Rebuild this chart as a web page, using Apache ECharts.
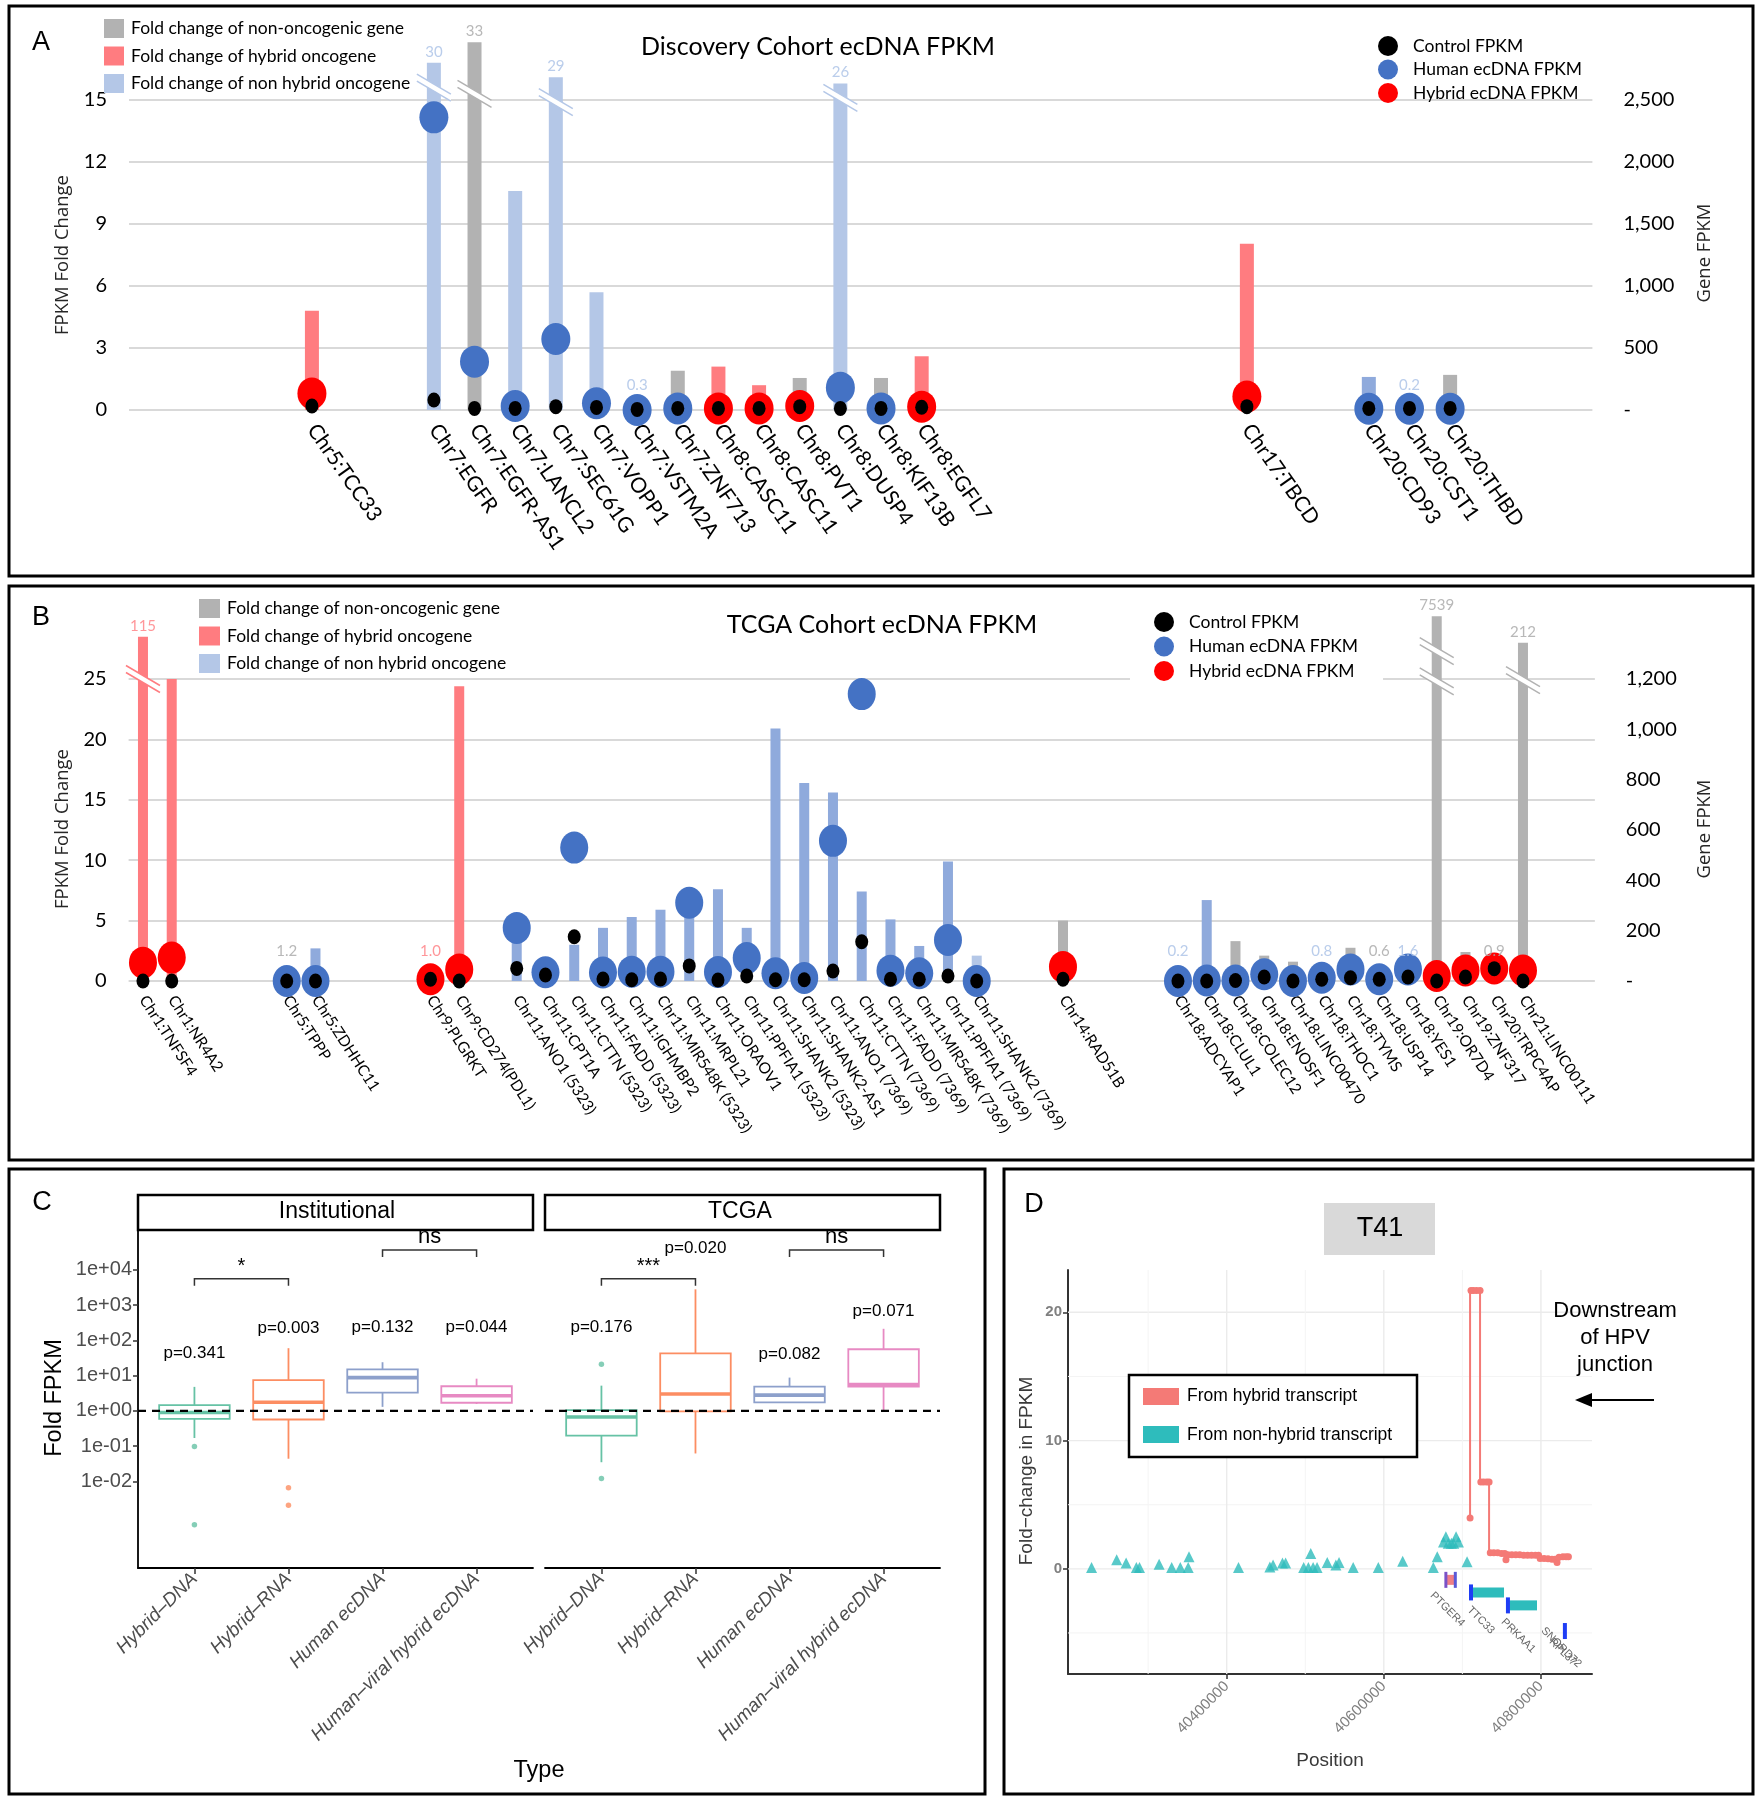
<!DOCTYPE html>
<html>
<head>
<meta charset="utf-8">
<title>ecDNA FPKM figure</title>
<script src="https://cdn.jsdelivr.net/npm/echarts@6/dist/echarts.min.js"></script>
<style>
html,body{margin:0;padding:0;background:#fff;}
#chart{width:1758px;height:1800px;}
</style>
</head>
<body>
<div id="chart"></div>
<script>
const N = null;

// ================= Panel A : Discovery cohort =================
const catsA = ['', '', '', '', 'Chr5:TCC33',
  '', '', 'Chr7:EGFR', 'Chr7:EGFR-AS1', 'Chr7:LANCL2',
  'Chr7:SEC61G', 'Chr7:VOPP1', 'Chr7:VSTM2A', 'Chr7:ZNF713', 'Chr8:CASC11',
  'Chr8:CASC11', 'Chr8:PVT1', 'Chr8:DUSP4', 'Chr8:KIF13B', 'Chr8:EGFL7',
  '', '', '', '', '',
  '', '', 'Chr17:TBCD', '', '',
  'Chr20:CD93', 'Chr20:CST1', 'Chr20:THBD', '', '',
  ''];
// bar type: g = non-oncogenic gene, r = hybrid oncogene, b/B = non hybrid oncogene
const typeA = [N, N, N, N, 'r',
  N, N, 'b', 'g', 'b',
  'b', 'b', 'b', 'g', 'r',
  'r', 'g', 'b', 'g', 'r',
  N, N, N, N, N,
  N, N, 'r', N, N,
  'B', 'b', 'g', N, N,
  N];
const foldA = [N, N, N, N, 4.8,
  N, N, 30, 33, 10.6,
  29, 5.7, 0.3, 1.9, 2.1,
  1.2, 1.55, 26, 1.55, 2.6,
  N, N, N, N, N,
  N, N, 8.05, N, N,
  1.6, 0.2, 1.7, N, N,
  N];
// broken bars: [category index, drawn height on the broken axis]
const brokenA = [[7, 16.8], [8, 17.8], [10, 16.1], [17, 15.8]];
const breakMarksA = [[7, 15.6], [8, 15.3], [10, 14.9], [17, 15.1]];
const labelledA = [7, 8, 10, 12, 17, 31];
const controlA = [N, N, N, N, 32,
  N, N, 81, 13, 13,
  27, 21, 5, 13, 13,
  13, 27, 13, 13, 22,
  N, N, N, N, N,
  N, N, 27, N, N,
  13, 13, 13, N, N,
  N];
const humanA = [N, N, N, N, N,
  N, N, 2360, 390, 32,
  573, 54, 0, 13, N,
  N, N, 180, 13, N,
  N, N, N, N, N,
  N, N, N, N, N,
  10, 10, 10, N, N,
  N];
const hybridA = [N, N, N, N, 134,
  N, N, N, N, N,
  N, N, N, N, 13,
  13, 32, N, N, 27,
  N, N, N, N, N,
  N, N, 108, N, N,
  N, N, N, N, N,
  N];

// ================= Panel B : TCGA cohort =================
const catsB = ['Chr1:TNFSF4', 'Chr1:NR4A2', '', '', '',
  'Chr5:TPPP', 'Chr5:ZDHHC11', '', '', '',
  'Chr9:PLGRKT', 'Chr9:CD274(PDL1)', '', 'Chr11:ANO1 (5323)', 'Chr11:CPT1A',
  'Chr11:CTTN (5323)', 'Chr11:FADD (5323)', 'Chr11:IGHMBP2', 'Chr11:MIR548K (5323)', 'Chr11:MRPL21',
  'Chr11:ORAOV1', 'Chr11:PPFIA1 (5323)', 'Chr11:SHANK2 (5323)', 'Chr11:SHANK2-AS1', 'Chr11:ANO1 (7369)',
  'Chr11:CTTN (7369)', 'Chr11:FADD (7369)', 'Chr11:MIR548K (7369)', 'Chr11:PPFIA1 (7369)', 'Chr11:SHANK2 (7369)',
  '', '', 'Chr14:RAD51B', '', '',
  '', 'Chr18:ADCYAP1', 'Chr18:CLUL1', 'Chr18:COLEC12', 'Chr18:ENOSF1',
  'Chr18:LINC00470', 'Chr18:THOC1', 'Chr18:TYMS', 'Chr18:USP14', 'Chr18:YES1',
  'Chr19:OR7D4', 'Chr19:ZNF317', 'Chr20:TRPC4AP', 'Chr21:LINC00111', '',
  ''];
const typeB = ['r', 'r', N, N, N,
  'g', 'B', N, N, N,
  'r', 'r', N, 'B', 'B',
  'B', 'B', 'B', 'B', 'B',
  'B', 'B', 'B', 'B', 'B',
  'B', 'B', 'B', 'B', 'b',
  N, N, 'g', N, N,
  N, 'b', 'B', 'g', 'g',
  'g', 'b', 'g', 'g', 'b',
  'g', 'g', 'g', 'g', N,
  N];
const foldB = [115, 25, N, N, N,
  1.2, 2.7, N, N, N,
  1.0, 24.4, N, 4.0, 0.6,
  3.0, 4.4, 5.3, 5.9, 6.5,
  7.6, 4.4, 20.9, 16.4, 15.6,
  7.4, 5.1, 2.9, 9.9, 2.1,
  N, N, 5.0, N, N,
  N, 0.2, 6.7, 3.3, 2.1,
  1.6, 0.8, 2.75, 0.6, 1.6,
  7539, 2.4, 0.9, 212, N,
  N];
const brokenB = [[0, 28.5], [45, 30.2], [48, 28.0]];
const breakMarksB = [[0, 25.0], [45, 27.3], [45, 24.8], [48, 24.9]];
const labelledB = [0, 5, 10, 36, 41, 43, 44, 45, 47, 48];
const controlB = [0, 0, N, N, N,
  0, 0, N, N, N,
  7, 0, N, 50, 24,
  176, 8, 5, 8, 60,
  4, 20, 5, 5, 40,
  156, 7, 7, 20, 0,
  N, N, 7, N, N,
  N, 0, 0, 2, 16,
  0, 7, 13, 7, 16,
  0, 16, 49, 0, N,
  N];
const humanB = [N, N, N, N, N,
  0, 0, N, N, N,
  N, N, N, 211, 35,
  530, 34, 37, 37, 311,
  36, 91, 31, 12, 557,
  1140, 41, 31, 163, 0,
  N, N, N, N, N,
  N, 0, 2, 2, 27,
  0, 13, 46, 7, 46,
  N, N, N, N, N,
  N];
const hybridB = [73, 93, N, N, N,
  N, N, N, N, N,
  7, 46, N, N, N,
  N, N, N, N, N,
  N, N, N, N, N,
  N, N, N, N, N,
  N, N, 56, N, N,
  N, N, N, N, N,
  N, N, N, N, N,
  20, 42, 50, 42, N,
  N];

// ================= Panel C : boxplots =================
const typesC = ['Hybrid\u2013DNA', 'Hybrid\u2013RNA', 'Human ecDNA', 'Human\u2013viral hybrid ecDNA'];
// [min, Q1, median, Q3, max]
const boxInst = [[0.17, 0.59, 0.9, 1.45, 4.8], [0.044, 0.57, 1.75, 7.5, 60], [1.3, 3.3, 8.8, 15, 24], [1.57, 1.7, 2.7, 5.0, 8.2]];
const boxTcga = [[0.035, 0.2, 0.67, 1.05, 5.2], [0.062, 0.97, 3.0, 43, 2800], [1.75, 1.75, 2.8, 4.9, 8.8], [1.0, 4.9, 5.6, 56, 213]];
const outInst = [[1, 0.097], [1, 0.00059], [2, 0.0066], [2, 0.0021]];
const outTcga = [[1, 21], [1, 0.012]];
const pInst = ['p=0.341', 'p=0.003', 'p=0.132', 'p=0.044'];
const pInstAt = [44, 224, 240, 240];
const pTcga = ['p=0.176', 'p=0.020', 'p=0.082', 'p=0.071'];
const pTcgaAt = [240, 40000, 41, 680];
const sigInst = [[1, 2, 5560, '*'], [3, 4, 36300, 'ns']];
const sigTcga = [[1, 2, 5560, '***'], [3, 4, 36300, 'ns']];
const logTicksC = [0.01, 0.1, 1, 10, 100, 1000, 10000];
const refFoldC = 1;

// ================= Panel D : T41 =================
const nonHybridPos = [40228000, 40260000, 40272000, 40285000, 40289000, 40314000, 40330000, 40341000, 40351000, 40352000,
  40415000, 40455000, 40459000, 40471000, 40475000, 40498000, 40504000, 40507000, 40510000, 40515000,
  40528000, 40539000, 40543000, 40561000, 40593000, 40624000, 40663000, 40668000, 40706000,
  40676000, 40679000, 40682000, 40686000, 40689000, 40692000, 40695000];
const nonHybridFold = [0.1, 0.7, 0.45, 0.1, 0.1, 0.35, 0.1, 0.1, 0.1, 0.95,
  0.1, 0.15, 0.3, 0.45, 0.45, 0.1, 0.1, 1.2, 0.1, 0.1,
  0.5, 0.3, 0.5, 0.1, 0.1, 0.6, 0.1, 0.95, 0.55,
  2.1, 2.5, 2.0, 2.0, 2.0, 2.5, 2.1];
const hybridPos = [40709800, 40711000, 40714000, 40718000, 40722500, 40723500, 40727000, 40731000, 40734000, 40735500,
  40740000, 40745000, 40750000, 40754000, 40755500, 40758000, 40763000, 40768000, 40773000, 40778000,
  40783000, 40788000, 40793000, 40797000, 40799000, 40804000, 40809000, 40814000, 40818000, 40820500,
  40823000, 40828000, 40832000, 40835000];
const hybridFold = [3.97, 21.7, 21.7, 21.7, 21.7, 6.77, 6.77, 6.77, 6.77, 1.25,
  1.25, 1.25, 1.2, 1.2, 0.7, 1.1, 1.1, 1.1, 1.1, 1.05,
  1.05, 1.05, 1.05, 1.05, 0.8, 0.8, 0.78, 0.75, 0.75, 0.5,
  0.9, 0.95, 0.95, 0.95];
const genesD = ['PTGER4', 'TTC33', 'PRKAA1', 'SNORD72', 'RPL37'];
const geneStartD = [40679000, 40711000, 40758000, 40830500, 40830500];
const geneEndD = [40691000, 40753000, 40795000, 40831000, 40831000];
const geneLevelD = [-0.86, -1.84, -2.85, -4.85, -4.85];
const posTicksD = [40400000, 40600000, 40800000];
const foldTicksD = [0, 10, 20];
const gridYD = [-5, 0, 5, 10, 15, 20];
const gridXD = [40300000, 40400000, 40500000, 40600000, 40700000, 40800000];

// ================= styles =================
const FONT_XL = 'Lato, "Liberation Sans", sans-serif';
const FONT_GG = '"Liberation Sans", Arial, sans-serif';
const FONT_SEG = '"Open Sans", "Liberation Sans", sans-serif';
const BAR_COLORS = {g: '#b2b2b2', r: '#ff7c80', b: '#b4c7e7', B: '#8faadc'};
const LABEL_COLORS = {g: '#a6a6a6', r: '#ff7c80', b: '#a9c1e6', B: '#9db5e0'};
const BAR_NAMES = {g: 'Fold change of non-oncogenic gene', r: 'Fold change of hybrid oncogene', b: 'Fold change of non hybrid oncogene'};
const DOT_NAMES = ['Control FPKM', 'Human ecDNA FPKM', 'Hybrid ecDNA FPKM'];
const PAL_C = ['#66c2a5', '#fc8d62', '#8da0cb', '#e78ac3'];
const TEAL = '#2ebcbc';
const SALMON = '#f47a76';

function drawnHeight(vals, broken, i) {
  const b = broken.find(x => x[0] === i);
  return b ? b[1] : vals[i];
}
function fmtFold(v) { return v < 10 ? v.toFixed(1) : String(v); }
function fmtThousands(v) { return v === 0 ? '-' : v.toLocaleString('en-US'); }
function fmtSci(v) {
  const e = Math.round(Math.log10(v));
  return '1e' + (e < 0 ? '-' : '+') + String(Math.abs(e)).padStart(2, '0');
}

function barSeriesFor(kind, types, vals, broken, xi, yi, width) {
  return {
    name: BAR_NAMES[kind], type: 'bar', xAxisIndex: xi, yAxisIndex: yi, barWidth: width, barGap: '-100%',
    clip: false, z: 2, silent: true, animation: false,
    itemStyle: {color: BAR_COLORS[kind]},
    data: types.map((t, i) => {
      const match = kind === 'b' ? (t === 'b' || t === 'B') : t === kind;
      if (!match) return '-';
      const v = drawnHeight(vals, broken, i);
      return t === 'B' ? {value: v, itemStyle: {color: BAR_COLORS.B}} : v;
    })
  };
}
function dotSeries(name, vals, color, size, xi, yi, z) {
  return {
    name, type: 'scatter', xAxisIndex: xi, yAxisIndex: yi, z, silent: true, clip: false, animation: false,
    symbol: 'circle', symbolSize: size, itemStyle: {color, opacity: 1},
    data: vals.map((v, i) => v == null ? null : [i, v]).filter(d => d)
  };
}
function valueLabelSeries(labelled, types, vals, broken, floor, xi, yi) {
  return {
    type: 'scatter', xAxisIndex: xi, yAxisIndex: yi, z: 6, silent: true, clip: false, animation: false,
    symbolSize: 1, itemStyle: {color: 'rgba(0,0,0,0)'},
    data: labelled.map(i => ({
      value: [i, Math.max(drawnHeight(vals, broken, i), floor)],
      label: {show: true, position: 'top', distance: 3, formatter: fmtFold(vals[i]),
        color: LABEL_COLORS[types[i]], fontFamily: FONT_XL, fontSize: 15}
    }))
  };
}
function breakMarkSeries(marks, types, xi, yi) {
  return {
    type: 'custom', xAxisIndex: xi, yAxisIndex: yi, z: 3, silent: true, animation: false,
    data: marks.map(m => [m[0], m[1]]),
    renderItem(params, api) {
      const p = api.coord([api.value(0), api.value(1)]);
      const c = BAR_COLORS[types[marks[params.dataIndex][0]]];
      const hw = 17, s = 10, g = 3.5;
      return {type: 'group', children: [
        {type: 'polygon', shape: {points: [[p[0] - hw, p[1] - s - g], [p[0] + hw, p[1] + s - g], [p[0] + hw, p[1] + s + g], [p[0] - hw, p[1] - s + g]]}, style: {fill: '#fff'}},
        {type: 'line', shape: {x1: p[0] - hw, y1: p[1] - s - g, x2: p[0] + hw, y2: p[1] + s - g}, style: {stroke: c, lineWidth: 1.5}},
        {type: 'line', shape: {x1: p[0] - hw, y1: p[1] - s + g, x2: p[0] + hw, y2: p[1] + s + g}, style: {stroke: c, lineWidth: 1.5}}
      ]};
    }
  };
}
function boxSeries(boxes, xi, yi) {
  return {
    type: 'custom', xAxisIndex: xi, yAxisIndex: yi, z: 3, silent: true, animation: false,
    encode: {x: 0, y: [1, 2, 3, 4, 5]},
    data: boxes.map((b, i) => [i + 1].concat(b)),
    renderItem(params, api) {
      const x = api.value(0), c = PAL_C[x - 1], hw = 0.375;
      const v = [1, 2, 3, 4, 5].map(k => api.value(k));
      const y = v.map(val => api.coord([x, val])[1]);
      const xc = api.coord([x, v[2]])[0], xl = api.coord([x - hw, v[2]])[0], xr = api.coord([x + hw, v[2]])[0];
      return {type: 'group', children: [
        {type: 'line', shape: {x1: xc, y1: y[4], x2: xc, y2: y[3]}, style: {stroke: c, lineWidth: 1.8}},
        {type: 'line', shape: {x1: xc, y1: y[1], x2: xc, y2: y[0]}, style: {stroke: c, lineWidth: 1.8}},
        {type: 'rect', shape: {x: xl, y: y[3], width: xr - xl, height: y[1] - y[3]}, style: {fill: '#fff', stroke: c, lineWidth: 1.8}},
        {type: 'line', shape: {x1: xl, y1: y[2], x2: xr, y2: y[2]}, style: {stroke: c, lineWidth: 3.6}}
      ]};
    }
  };
}
function outlierSeries(outs, xi, yi) {
  return {type: 'scatter', xAxisIndex: xi, yAxisIndex: yi, z: 4, silent: true, animation: false, symbolSize: 5.5,
    data: outs.map(o => ({value: o, itemStyle: {color: PAL_C[o[0] - 1]}}))};
}
function refLineSeries(xi, yi) {
  return {type: 'custom', xAxisIndex: xi, yAxisIndex: yi, z: 8, silent: true, animation: false,
    encode: {x: 0, y: 1}, data: [[1, refFoldC]],
    renderItem(params, api) {
      const y = api.coord([1, api.value(1)])[1];
      const cs = params.coordSys;
      return {type: 'line', shape: {x1: cs.x, y1: y, x2: cs.x + cs.width, y2: y}, style: {stroke: '#000', lineWidth: 2.2, lineDash: [8, 6]}};
    }};
}
function bracketSeries(sigs, xi, yi) {
  return {type: 'custom', xAxisIndex: xi, yAxisIndex: yi, z: 6, silent: true, animation: false,
    encode: {x: [0, 1], y: 2}, data: sigs.map(s => [s[0], s[1], s[2]]),
    renderItem(params, api) {
      const a = api.coord([api.value(0), api.value(2)]), b = api.coord([api.value(1), api.value(2)]);
      const label = sigs[params.dataIndex][3];
      return {type: 'group', children: [
        {type: 'polyline', shape: {points: [[a[0], a[1] + 7], [a[0], a[1]], [b[0], b[1]], [b[0], b[1] + 7]]}, style: {stroke: '#333', lineWidth: 1.5, fill: null}},
        {type: 'text', x: (a[0] + b[0]) / 2, y: a[1] - 2, style: {text: label, align: 'center', verticalAlign: 'bottom', fontFamily: FONT_GG, fontSize: label === 'ns' ? 22 : 20, fill: '#000'}}
      ]};
    }};
}
function pSeries(labels, at, xi, yi) {
  return {type: 'custom', xAxisIndex: xi, yAxisIndex: yi, z: 6, silent: true, animation: false,
    encode: {x: 0, y: 1}, data: at.map((v, i) => [i + 1, v]),
    renderItem(params, api) {
      const p = api.coord([api.value(0), api.value(1)]);
      return {type: 'text', x: p[0], y: p[1], style: {text: labels[params.dataIndex], align: 'center', verticalAlign: 'middle', fontFamily: FONT_GG, fontSize: 17, fill: '#000'}};
    }};
}

// ================= axes =================
const catAxis = (gi, data, rot, size) => ({
  type: 'category', gridIndex: gi, data, boundaryGap: true,
  axisLine: {show: false}, axisTick: {show: false}, splitLine: {show: false},
  axisLabel: {interval: 0, rotate: rot, margin: 16, fontFamily: FONT_XL, fontSize: size, color: '#000'}
});
const xlValueAxis = (gi, side, max, interval, fmt, margin, showSplit) => ({
  type: 'value', gridIndex: gi, position: side, min: 0, max, interval,
  axisLine: {show: false}, axisTick: {show: false},
  axisLabel: {margin, fontFamily: FONT_XL, fontSize: 20, color: '#000', formatter: fmt},
  splitLine: {show: showSplit, lineStyle: {color: '#d9d9d9', width: 2}}
});
const boxXAxis = gi => ({
  type: 'value', gridIndex: gi, min: 0.4, max: 4.6,
  splitLine: {show: false},
  axisLine: {show: true, onZero: false, lineStyle: {color: '#000', width: 1.8}},
  axisTick: {show: true, customValues: [1, 2, 3, 4], length: 6, lineStyle: {color: '#333', width: 1.5}},
  axisLabel: {customValues: [1, 2, 3, 4], formatter: v => typesC[Math.round(v) - 1], rotate: 45, margin: 8,
    fontStyle: 'italic', fontFamily: FONT_GG, fontSize: 19, color: '#4d4d4d'}
});
const boxYAxis = (gi, show) => ({
  type: 'log', logBase: 10, gridIndex: gi, min: 3.5e-5, max: 1.35e5, show,
  splitLine: {show: false},
  axisLine: {show: true, onZero: false, lineStyle: {color: '#000', width: 1.8}},
  axisTick: {show: true, customValues: logTicksC, length: 5, lineStyle: {color: '#333', width: 1.5}},
  axisLabel: {customValues: logTicksC, formatter: fmtSci, margin: 6, fontFamily: FONT_GG, fontSize: 20, color: '#4d4d4d'}
});

const option = {
  backgroundColor: '#fff',
  animation: false,
  grid: [
    {left: 129, top: 100, width: 1463.4, height: 310, outerBoundsMode: 'none'},
    {left: 128.6, top: 679, width: 1466.25, height: 302, outerBoundsMode: 'none'},
    {left: 138, top: 1230, width: 395, height: 338, outerBoundsMode: 'none'},
    {left: 545, top: 1230, width: 395, height: 338, outerBoundsMode: 'none'},
    {left: 1068, top: 1270, width: 524, height: 404, outerBoundsMode: 'none'}
  ],
  xAxis: [
    catAxis(0, catsA, -55, 21),
    catAxis(1, catsB, -57, 15.5),
    boxXAxis(2),
    boxXAxis(3),
    {type: 'value', gridIndex: 4, min: 40198000, max: 40865000, splitLine: {show: false},
      axisLine: {show: true, onZero: false, lineStyle: {color: '#333', width: 2}},
      axisTick: {show: true, customValues: posTicksD, length: 5, lineStyle: {color: '#333', width: 1.5}},
      axisLabel: {customValues: posTicksD, formatter: v => String(v), rotate: 45, margin: 10, fontFamily: FONT_GG, fontSize: 15, color: '#808080'}}
  ],
  yAxis: [
    xlValueAxis(0, 'left', 15, 3, null, 22, true),
    xlValueAxis(0, 'right', 2500, 500, fmtThousands, 31, false),
    xlValueAxis(1, 'left', 25, 5, null, 22, true),
    xlValueAxis(1, 'right', 1200, 200, fmtThousands, 31, false),
    boxYAxis(2, true),
    boxYAxis(3, false),
    {type: 'value', gridIndex: 4, min: -8.2, max: 23.3, splitLine: {show: false},
      axisLine: {show: true, onZero: false, lineStyle: {color: '#333', width: 2}},
      axisTick: {show: true, customValues: foldTicksD, length: 5, lineStyle: {color: '#333', width: 1.5}},
      axisLabel: {customValues: foldTicksD, margin: 6, fontFamily: FONT_GG, fontSize: 15, fontWeight: 'bold', color: '#808080'}}
  ],
  legend: [
    {data: [BAR_NAMES.g, BAR_NAMES.r, BAR_NAMES.b], orient: 'vertical', left: 104, top: 19, padding: 0,
      itemWidth: 20, itemHeight: 19, itemGap: 8.5, icon: 'rect', selectedMode: false,
      textStyle: {fontFamily: FONT_XL, fontSize: 17.5, color: '#000', padding: [0, 0, 0, 2]}},
    {data: DOT_NAMES, orient: 'vertical', left: 1378, top: 36, padding: 0,
      itemWidth: 20, itemHeight: 20, itemGap: 3.5, icon: 'circle', selectedMode: false,
      textStyle: {fontFamily: FONT_XL, fontSize: 17.5, color: '#000', padding: [0, 0, 0, 10]}},
    {data: [BAR_NAMES.g, BAR_NAMES.r, BAR_NAMES.b], orient: 'vertical', left: 199, top: 599, padding: 0,
      itemWidth: 21, itemHeight: 19, itemGap: 8.5, icon: 'rect', selectedMode: false,
      textStyle: {fontFamily: FONT_XL, fontSize: 17.5, color: '#000', padding: [0, 0, 0, 2]}},
    {data: DOT_NAMES, orient: 'vertical', left: 1130, top: 604, padding: [8, 25, 8, 24], backgroundColor: '#fff',
      itemWidth: 20, itemHeight: 20, itemGap: 4.5, icon: 'circle', selectedMode: false,
      textStyle: {fontFamily: FONT_XL, fontSize: 17.5, color: '#000', padding: [0, 0, 0, 10]}}
  ],
  series: [
    // ---- A
    barSeriesFor('g', typeA, foldA, brokenA, 0, 0, 14),
    barSeriesFor('r', typeA, foldA, brokenA, 0, 0, 14),
    barSeriesFor('b', typeA, foldA, brokenA, 0, 0, 14),
    breakMarkSeries(breakMarksA, typeA, 0, 0),
    valueLabelSeries(labelledA, typeA, foldA, brokenA, 0.66, 0, 0),
    dotSeries(DOT_NAMES[1], humanA, '#4472c4', [29, 32], 0, 1, 4),
    dotSeries(DOT_NAMES[2], hybridA, '#ff0000', [29, 32], 0, 1, 4),
    dotSeries(DOT_NAMES[0], controlA, '#000000', [13, 15], 0, 1, 5),
    // ---- B
    barSeriesFor('g', typeB, foldB, brokenB, 1, 2, 10),
    barSeriesFor('r', typeB, foldB, brokenB, 1, 2, 10),
    barSeriesFor('b', typeB, foldB, brokenB, 1, 2, 10),
    breakMarkSeries(breakMarksB, typeB, 1, 2),
    valueLabelSeries(labelledB, typeB, foldB, brokenB, 1.55, 1, 2),
    dotSeries(DOT_NAMES[1], humanB, '#4472c4', [28, 32], 1, 3, 4),
    dotSeries(DOT_NAMES[2], hybridB, '#ff0000', [28, 32], 1, 3, 4),
    dotSeries(DOT_NAMES[0], controlB, '#000000', [13, 15], 1, 3, 5),
    // ---- C
    boxSeries(boxInst, 2, 4),
    outlierSeries(outInst, 2, 4),
    refLineSeries(2, 4),
    bracketSeries(sigInst, 2, 4),
    pSeries(pInst, pInstAt, 2, 4),
    boxSeries(boxTcga, 3, 5),
    outlierSeries(outTcga, 3, 5),
    refLineSeries(3, 5),
    bracketSeries(sigTcga, 3, 5),
    pSeries(pTcga, pTcgaAt, 3, 5),
    // ---- D
    {type: 'custom', xAxisIndex: 4, yAxisIndex: 6, z: 1, silent: true, animation: false,
      data: gridYD.map(v => [0, v]).concat(gridXD.map(v => [1, v])),
      renderItem(params, api) {
        const cs = params.coordSys, kind = api.value(0), v = api.value(1);
        const major = kind === 0 ? foldTicksD.includes(v) : posTicksD.includes(v);
        const st = {stroke: major ? '#ebebeb' : '#f4f4f4', lineWidth: major ? 1.4 : 1};
        if (kind === 0) {
          const y = api.coord([40500000, v])[1];
          return {type: 'line', shape: {x1: cs.x, y1: y, x2: cs.x + cs.width, y2: y}, style: st};
        }
        const x = api.coord([v, 0])[0];
        return {type: 'line', shape: {x1: x, y1: cs.y, x2: x, y2: cs.y + cs.height}, style: st};
      }},
    {type: 'custom', xAxisIndex: 4, yAxisIndex: 6, z: 3, silent: true, animation: false,
      encode: {x: [0, 1], y: 2},
      data: genesD.map((g, i) => [geneStartD[i], geneEndD[i], geneLevelD[i]]),
      renderItem(params, api) {
        const i = params.dataIndex;
        const a = api.coord([api.value(0), api.value(2)]), b = api.coord([api.value(1), api.value(2)]);
        const kids = [];
        const fills = ['#ef7f86', TEAL, TEAL];
        const nudge = {PTGER4: [-14, 14], TTC33: [-2, 16], PRKAA1: [-5, 15], SNORD72: [-22, -2], RPL37: [-14, 9]}[genesD[i]];
        if (i < 3) kids.push({type: 'rect', shape: {x: a[0], y: a[1] - 5, width: b[0] - a[0], height: 10}, style: {fill: fills[i]}});
        if (i === 0) {
          kids.push({type: 'rect', shape: {x: a[0] - 1.5, y: a[1] - 8, width: 3, height: 16}, style: {fill: '#7a52c7'}});
          kids.push({type: 'rect', shape: {x: b[0] - 1.5, y: b[1] - 8, width: 3, height: 16}, style: {fill: '#5a5ad8'}});
        } else if (i < 4) {
          kids.push({type: 'rect', shape: {x: a[0] - 2, y: a[1] - 8, width: 4, height: 16}, style: {fill: '#1f3df5'}});
        }
        kids.push({type: 'text', x: a[0] + nudge[0], y: a[1] + nudge[1], rotation: -Math.PI / 4,
          style: {text: genesD[i], align: 'left', verticalAlign: 'middle', fontFamily: FONT_GG, fontSize: 11, fill: '#666'}});
        return {type: 'group', children: kids};
      }},
    {type: 'scatter', name: 'From non-hybrid transcript', xAxisIndex: 4, yAxisIndex: 6, z: 4, silent: true, animation: false,
      symbol: 'triangle', symbolSize: 11, itemStyle: {color: TEAL},
      data: nonHybridPos.map((p, i) => [p, nonHybridFold[i]])},
    {type: 'line', name: 'From hybrid transcript', xAxisIndex: 4, yAxisIndex: 6, z: 5, silent: true, animation: false,
      step: 'start', symbol: 'circle', symbolSize: 7, showAllSymbol: true,
      lineStyle: {color: SALMON, width: 2}, itemStyle: {color: SALMON},
      data: hybridPos.map((p, i) => [p, hybridFold[i]])}
  ],
  graphic: []
};

// ================= static graphics (frames, titles, annotations) =================
const G = option.graphic;
const frame = (x, y, w, h) => G.push({type: 'rect', z: 100, silent: true, shape: {x, y, width: w, height: h}, style: {fill: 'none', stroke: '#000', lineWidth: 3}});
const label = (x, y, text, style, rotation) => G.push({type: 'text', z: 100, silent: true, x, y, rotation: rotation || 0,
  style: Object.assign({text, align: 'center', verticalAlign: 'middle', fill: '#000'}, style)});
frame(9, 6, 1744, 570);
frame(9, 586, 1744, 574);
frame(9, 1169, 976, 625);
frame(1004, 1169, 749, 625);
const letterStyle = {fontFamily: FONT_GG, fontSize: 27};
label(41, 43, 'A', letterStyle);
label(41, 618, 'B', letterStyle);
label(42, 1203, 'C', letterStyle);
label(1034, 1205, 'D', letterStyle);
label(818, 47, 'Discovery Cohort ecDNA FPKM', {fontFamily: FONT_XL, fontSize: 25});
label(882, 625, 'TCGA Cohort ecDNA FPKM', {fontFamily: FONT_XL, fontSize: 25});
const axisNameStyle = {fontFamily: FONT_SEG, fontSize: 18.5, fill: '#262626'};
label(63, 255, 'FPKM Fold Change', axisNameStyle, Math.PI / 2);
label(1705, 253, 'Gene FPKM', axisNameStyle, Math.PI / 2);
label(63, 829, 'FPKM Fold Change', axisNameStyle, Math.PI / 2);
label(1705, 829, 'Gene FPKM', axisNameStyle, Math.PI / 2);
// panel C
G.push({type: 'rect', z: 100, silent: true, shape: {x: 138, y: 1195, width: 395, height: 35}, style: {fill: '#fff', stroke: '#000', lineWidth: 2.5}});
G.push({type: 'rect', z: 100, silent: true, shape: {x: 545, y: 1195, width: 395, height: 35}, style: {fill: '#fff', stroke: '#000', lineWidth: 2.5}});
label(337, 1212, 'Institutional', {fontFamily: FONT_GG, fontSize: 23});
label(740, 1212, 'TCGA', {fontFamily: FONT_GG, fontSize: 23});
label(55, 1398, 'Fold FPKM', {fontFamily: FONT_GG, fontSize: 23.5}, Math.PI / 2);
label(539, 1771, 'Type', {fontFamily: FONT_GG, fontSize: 23.5});
// panel D
G.push({type: 'rect', z: 100, silent: true, shape: {x: 1324, y: 1203, width: 111, height: 52}, style: {fill: '#d9d9d9'}});
label(1380, 1229, 'T41', {fontFamily: FONT_GG, fontSize: 27});
label(1027, 1471, 'Fold\u2212change in FPKM', {fontFamily: FONT_GG, fontSize: 19, fill: '#3a3a3a'}, Math.PI / 2);
label(1330, 1761, 'Position', {fontFamily: FONT_GG, fontSize: 19, fill: '#3a3a3a'});
G.push({type: 'rect', z: 100, silent: true, shape: {x: 1129, y: 1375, width: 288, height: 82}, style: {fill: '#fff', stroke: '#000', lineWidth: 2.5}});
G.push({type: 'rect', z: 101, silent: true, shape: {x: 1143, y: 1388, width: 36, height: 17}, style: {fill: SALMON}});
G.push({type: 'rect', z: 101, silent: true, shape: {x: 1143, y: 1426, width: 36, height: 17}, style: {fill: TEAL}});
G.push({type: 'text', z: 101, silent: true, x: 1187, y: 1396, style: {text: 'From hybrid transcript', align: 'left', verticalAlign: 'middle', fontFamily: FONT_GG, fontSize: 17.5, fill: '#000'}});
G.push({type: 'text', z: 101, silent: true, x: 1187, y: 1435, style: {text: 'From non-hybrid transcript', align: 'left', verticalAlign: 'middle', fontFamily: FONT_GG, fontSize: 17.5, fill: '#000'}});
label(1615, 1311, 'Downstream', {fontFamily: FONT_GG, fontSize: 22});
label(1615, 1338, 'of HPV', {fontFamily: FONT_GG, fontSize: 22});
label(1615, 1365, 'junction', {fontFamily: FONT_GG, fontSize: 22});
G.push({type: 'line', z: 100, silent: true, shape: {x1: 1588, y1: 1400, x2: 1654, y2: 1400}, style: {stroke: '#000', lineWidth: 2}});
G.push({type: 'polygon', z: 100, silent: true, shape: {points: [[1575, 1400], [1592, 1393], [1592, 1407]]}, style: {fill: '#000'}});

const chart = echarts.init(document.getElementById('chart'), null, {renderer: 'canvas', width: 1758, height: 1800});
chart.setOption(option);
</script>
</body>
</html>
